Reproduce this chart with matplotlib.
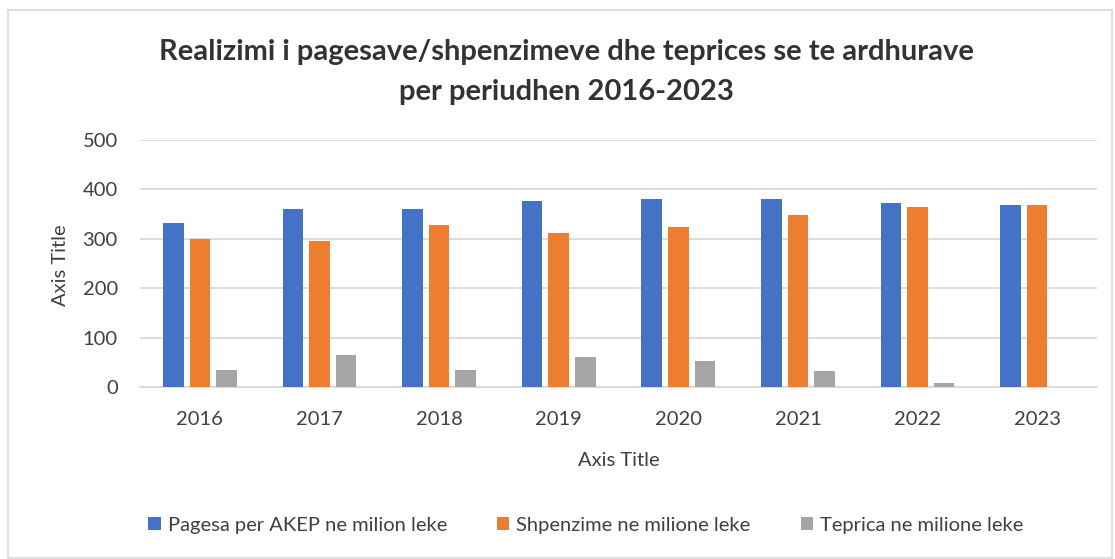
import matplotlib.pyplot as plt
import matplotlib.patches as mpatches
import numpy as np

plt.rcParams['font.family'] = ['Lato', 'DejaVu Sans']

# Te dhenat (lexuar nga grafiku)
years = ["2016", "2017", "2018", "2019", "2020", "2021", "2022", "2023"]
pagesa = [332, 360, 360, 376, 380, 380, 372, 368]
shpenzime = [300, 295, 328, 312, 324, 348, 364, 368]
teprica = [34, 65, 34, 61, 53, 33, 9, 0]
series_names = ["Pagesa per AKEP ne milion leke",
                "Shpenzime ne milione leke",
                "Teprica ne milione leke"]
colors = ["#4472C4", "#ED7D31", "#A5A5A5"]
txt = "#404040"
W, H = 1115, 559

fig = plt.figure(figsize=(W / 100, H / 100), dpi=100)

# kufiri i grafikut
fig.patches.append(mpatches.Rectangle((8 / W, 1 / H), 1104 / W, 1 - 11 / H,
                                      transform=fig.transFigure, fill=False,
                                      edgecolor="#d9d9d9", lw=1.2))

ax = fig.add_axes([140 / W, 171.7 / H, 957 / W, 247.6 / H])
x = np.arange(len(years))
w = 0.172
off = 0.222
for i, (vals, c) in enumerate(zip([pagesa, shpenzime, teprica], colors)):
    ax.bar(x + (i - 1) * off, vals, width=w, color=c, label=series_names[i], zorder=3)

ax.set_xlim(-0.5, len(years) - 0.5)
ax.set_ylim(0, 500)
ax.set_yticks(range(0, 501, 100))
ax.set_xticks(x)
ax.set_xticklabels(years)
ax.grid(axis="y", color="#d9d9d9", lw=1.3, zorder=0)
for s in ["top", "right", "left"]:
    ax.spines[s].set_visible(False)
ax.spines["bottom"].set_color("#d9d9d9")
ax.spines["bottom"].set_linewidth(1.3)
ax.tick_params(axis="both", length=0, labelsize=14.5, colors=txt)
ax.tick_params(axis="x", pad=17)
ax.tick_params(axis="y", pad=16)

fig.text(566 / W, 1 - 52 / H, "Realizimi i pagesave/shpenzimeve dhe teprices se te ardhurave",
         ha="center", va="center", fontsize=21, fontweight="bold", color="#333333")
fig.text(566 / W, 1 - 92 / H, "per periudhen 2016-2023",
         ha="center", va="center", fontsize=21, fontweight="bold", color="#333333")

fig.text(619 / W, 1 - 461 / H, "Axis Title", ha="center", va="center", fontsize=14.5, color=txt)
fig.text(60 / W, 1 - 265 / H, "Axis Title", ha="center", va="center", rotation=90,
         fontsize=14.5, color=txt)

fig.legend(loc="center", bbox_to_anchor=(586 / W, 1 - 525 / H), ncol=3, frameon=False,
           fontsize=14.5, handlelength=0.6, handleheight=0.6, handletextpad=0.35,
           columnspacing=2.5, labelcolor=txt)

fig.savefig("out.png", dpi=100)
